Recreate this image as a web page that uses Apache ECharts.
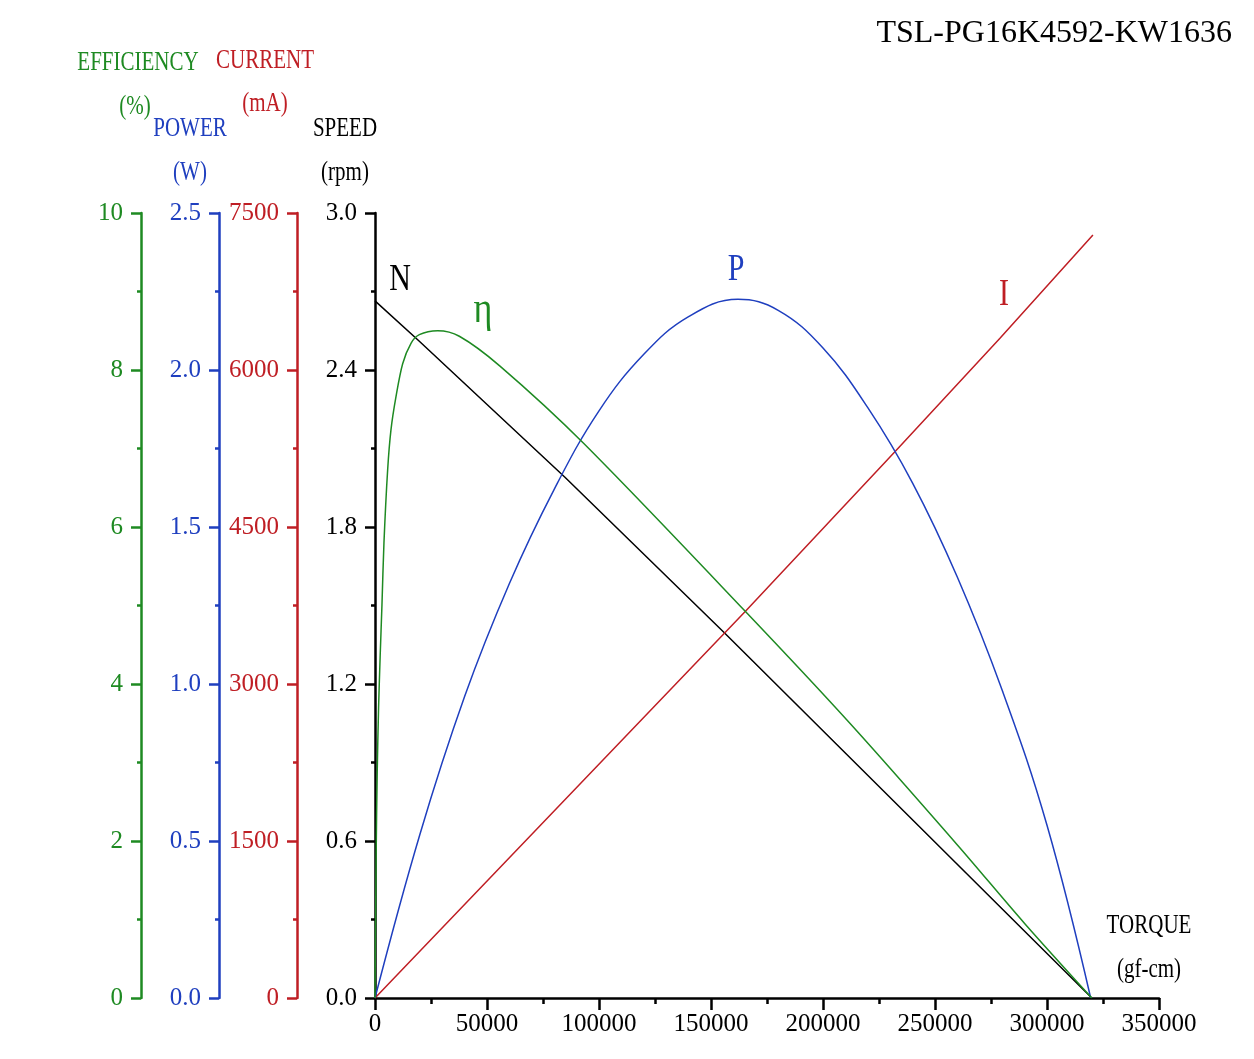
<!DOCTYPE html>
<html>
<head>
<meta charset="utf-8">
<script src="https://cdn.jsdelivr.net/npm/echarts@6/dist/echarts.min.js"></script>
<style>
  html, body { margin: 0; padding: 0; background: #fff; }
  #chart { width: 1254px; height: 1059px; }
</style>
</head>
<body>
<div id="chart"></div>
<script>
// values, torque in gf-cm
const speedData = [[0, 2.664], [19790, 2.51], [84800, 1.99], [155500, 1.40], [320000, 0]]
const currentData = [[0, 0], [165170, 3691], [232100, 5219], [279000, 6303], [320500, 7290]]
const powerData = [
  [0, 0], [20000, 0.52], [40000, 0.96], [60000, 1.32], [80000, 1.62], [100000, 1.87],
  [120000, 2.05], [140000, 2.17], [162000, 2.225], [180000, 2.19], [200000, 2.07],
  [220000, 1.88], [240000, 1.64], [260000, 1.34], [280000, 0.98], [300000, 0.55], [319500, 0]
]
const effData = [
  [0, 0], [500, 1.8], [1000, 2.9], [1600, 3.7], [2300, 4.35], [3100, 5.0], [4000, 5.8],
  [5650, 6.73], [7140, 7.24], [9370, 7.66], [12350, 8.08], [16070, 8.34], [19790, 8.45],
  [27980, 8.50], [37650, 8.43], [55800, 8.05], [93000, 7.07], [165170, 4.93],
  [212000, 3.5], [260000, 1.95], [290000, 0.95], [320000, 0]
]

const FONT = 'Liberation Serif'
const GREEN = '#1e8a22'
const BLUE = '#1f3fbf'
const RED = '#bf1e24'
const BLACK = '#000'

const chart = echarts.init(document.getElementById('chart'))

function yAxisDef(color, offset, max, interval, fmt) {
  return {
    type: 'value',
    position: 'left',
    offset: offset,
    min: 0,
    max: max,
    interval: interval,
    axisLine: { show: true, lineStyle: { color: color, width: 2.5 } },
    axisTick: { show: true, length: 10, lineStyle: { color: color, width: 2.5 } },
    minorTick: { show: true, splitNumber: 2, length: 4, lineStyle: { color: color, width: 2.5 } },
    axisLabel: { color: color, fontFamily: FONT, fontSize: 25, margin: 18, formatter: fmt },
    splitLine: { show: false }
  }
}

function textEl(text, x, y, color, size) {
  return {
    type: 'text', x: x, y: y, scaleY: 1.25,
    style: { text: text, fill: color, font: size + 'px "' + FONT + '"', align: 'center', verticalAlign: 'middle' }
  }
}

chart.setOption({
  animation: false,
  grid: { left: 375, right: 95, top: 213, bottom: 61, containLabel: false },
  xAxis: {
    type: 'value',
    min: 0,
    max: 350000,
    interval: 50000,
    axisLine: { show: true, onZero: false, lineStyle: { color: BLACK, width: 2.5 } },
    axisTick: { show: true, length: 12, lineStyle: { color: BLACK, width: 2.5 } },
    minorTick: { show: true, splitNumber: 2, length: 6, lineStyle: { color: BLACK, width: 2.5 } },
    axisLabel: { color: BLACK, fontFamily: FONT, fontSize: 25, margin: 14, formatter: v => String(v) },
    splitLine: { show: false }
  },
  yAxis: [
    yAxisDef(BLACK, 0, 3.0, 0.6, v => v.toFixed(1)),
    yAxisDef(RED, 78, 7500, 1500, v => String(v)),
    yAxisDef(BLUE, 156, 2.5, 0.5, v => v.toFixed(1)),
    yAxisDef(GREEN, 234, 10, 2, v => String(v))
  ],
  series: [
    { name: 'N', type: 'line', yAxisIndex: 0, data: speedData, showSymbol: false,
      lineStyle: { color: BLACK, width: 1.5 } },
    { name: 'I', type: 'line', yAxisIndex: 1, data: currentData, showSymbol: false,
      lineStyle: { color: RED, width: 1.5 } },
    { name: 'P', type: 'line', yAxisIndex: 2, data: powerData, showSymbol: false, smooth: 0.4,
      lineStyle: { color: BLUE, width: 1.5 } },
    { name: 'η', type: 'line', yAxisIndex: 3, data: effData, showSymbol: false, smooth: 0.3,
      lineStyle: { color: GREEN, width: 1.5 } }
  ],
  graphic: [
    { type: 'text', right: 22, top: 18,
      style: { text: 'TSL-PG16K4592-KW1636', fill: BLACK, font: '32px "' + FONT + '"' } },
    textEl('EFFICIENCY', 138, 63, GREEN, 21),
    textEl('(%)', 135, 107, GREEN, 21),
    textEl('CURRENT', 265, 61, RED, 21),
    textEl('(mA)', 265, 104, RED, 21),
    textEl('POWER', 190, 129, BLUE, 21),
    textEl('(W)', 190, 173, BLUE, 21),
    textEl('SPEED', 345, 129, BLACK, 21),
    textEl('(rpm)', 345, 173, BLACK, 21),
    textEl('TORQUE', 1149, 926, BLACK, 21),
    textEl('(gf-cm)', 1149, 970, BLACK, 21),
    textEl('N', 400, 280, BLACK, 30),
    textEl('η', 483, 310, GREEN, 36),
    textEl('P', 736, 270, BLUE, 30),
    textEl('I', 1004, 295, RED, 30)
  ]
})
</script>
</body>
</html>
